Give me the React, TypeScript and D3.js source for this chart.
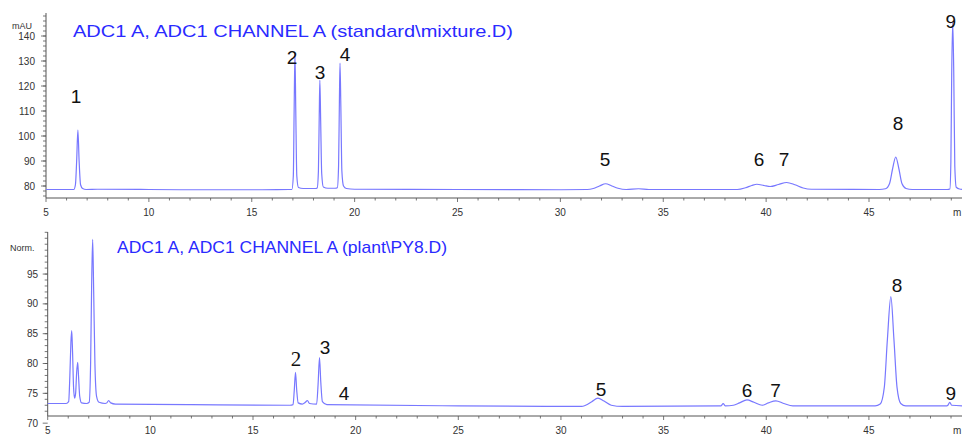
import * as d3 from "d3";

const W = 962;
const H = 436;

// chromatogram traces: [time (min), signal]
const topTrace: [number, number][] = [
  [5.0, 78.6], [6.35, 78.6], [6.43, 80.5], [6.49, 90], [6.55, 102.4], [6.61, 90], [6.68, 80.5], [6.78, 79.0], [6.95, 78.6],
  [7.5, 78.7], [10, 78.6], [12, 78.5], [15.5, 78.5], [16.8, 78.6],
  [16.95, 78.6], [17.02, 84], [17.06, 110], [17.1, 133.2], [17.14, 110], [17.19, 84], [17.27, 79.4], [17.5, 79.0], [17.9, 79.0], [18.1, 79.0],
  [18.18, 79.2], [18.24, 86], [18.28, 108], [18.31, 122.4], [18.35, 106], [18.4, 85], [18.48, 79.6], [18.7, 79.1], [19.05, 79.1],
  [19.16, 79.3], [19.22, 88], [19.26, 114], [19.29, 129.2], [19.33, 112], [19.38, 86], [19.46, 80], [19.6, 79], [20, 78.7],
  [25, 78.6], [30, 78.5], [31.3, 78.6],
  [31.6, 79.0], [31.9, 80.0], [32.2, 80.9], [32.5, 80.0], [32.8, 79.1], [33.2, 78.6], [33.8, 78.9], [34.3, 78.6],
  [38.6, 78.6], [39.0, 79.3], [39.3, 80.2], [39.55, 80.7], [39.9, 80.2], [40.2, 79.8], [40.6, 80.6], [41.0, 81.4], [41.4, 80.5], [41.8, 79.2], [42.2, 78.7],
  [45.5, 78.6], [45.8, 78.9], [46.0, 81], [46.15, 87], [46.3, 91.6], [46.45, 87], [46.6, 81], [46.8, 79], [47.1, 78.6],
  [48.8, 78.6], [48.93, 78.8], [48.98, 90], [49.02, 125], [49.07, 145.5], [49.12, 125], [49.17, 88], [49.24, 79.5], [49.4, 78.8], [49.7, 78.6],
];

const bottomTrace: [number, number][] = [
  [5.0, 73.3], [5.9, 73.3],
  [6.02, 73.6], [6.08, 78], [6.13, 83.5], [6.17, 85.5], [6.21, 82], [6.26, 76], [6.31, 74.2],
  [6.36, 75], [6.41, 78.5], [6.46, 80.2], [6.5, 78], [6.56, 74.5], [6.65, 73.4], [6.9, 73.3],
  [7.02, 73.5], [7.09, 80], [7.14, 93], [7.19, 100.8], [7.24, 92], [7.3, 80], [7.38, 74.5], [7.5, 73.5], [7.8, 73.3],
  [7.88, 73.4], [7.97, 73.8], [8.07, 73.4], [8.3, 73.2],
  [12, 73.1], [16.8, 73.0],
  [16.95, 73.1], [17.01, 75.5], [17.07, 78.5], [17.13, 75.5], [17.2, 73.4], [17.4, 73.2], [17.55, 73.5], [17.65, 73.8], [17.75, 73.3],
  [18.1, 73.2], [18.17, 76.5], [18.24, 81], [18.3, 77], [18.38, 73.6], [18.6, 73.1],
  [25, 72.9], [30, 72.8], [31.0, 72.8],
  [31.2, 73.0], [31.5, 73.6], [31.8, 74.2], [32.1, 73.7], [32.45, 73.0], [33, 72.8],
  [37.8, 72.9], [37.9, 73.3], [38.0, 72.9], [38.4, 73.0],
  [38.7, 73.4], [39.06, 73.9], [39.4, 73.5], [39.8, 73.0], [40.1, 73.4], [40.47, 73.75], [40.85, 73.3], [41.3, 72.9],
  [45.3, 72.9], [45.55, 73.2], [45.75, 76], [45.9, 84], [46.07, 91.2], [46.22, 84], [46.37, 76], [46.55, 73.3], [46.8, 72.9],
  [48.8, 72.9], [48.85, 73.0], [48.94, 73.5], [49.03, 73.0], [49.7, 72.9],
];

// peak labels: [label, time, signal position]
const topLabels: [string, number, number][] = [
  ["1", 6.46, 116], ["2", 16.96, 131.6], ["3", 18.32, 125.6], ["4", 19.53, 132.8],
  ["5", 32.17, 90.8], ["6", 39.65, 90.8], ["7", 40.87, 90.8], ["8", 46.41, 105.2], ["9", 48.98, 146],
];
const bottomLabels: [string, number, number][] = [
  ["2", 17.09, 80.8], ["3", 18.51, 82.75], ["4", 19.43, 75.0], ["5", 31.95, 75.7],
  ["6", 39.06, 75.5], ["7", 40.45, 75.5], ["8", 46.37, 93.07], ["9", 48.99, 75.0],
];

const xTicks = [5, 10, 15, 20, 25, 30, 35, 40, 45];
const topYTicks = [80, 90, 100, 110, 120, 130, 140];
const bottomYTicks = [70, 75, 80, 85, 90, 95];

const topTitle = "ADC1 A, ADC1 CHANNEL A (standard\\mixture.D)";
const bottomTitle = "ADC1 A, ADC1 CHANNEL A (plant\\PY8.D)";

const traceColor = "#7878ff";
const titleColor = "#2a2aff";
const axisColor = "#555";
const font = "'Liberation Sans', Arial, sans-serif";

type PanelProps = {
  trace: [number, number][];
  labels: [string, number, number][];
  yTicks: number[];
  yMinorStep: number;
  yDomain: [number, number];
  yRange: [number, number];
  xRange: [number, number];
  unit: string;
  unitY: number;
  unitX: number;
  title: string;
  titleX: number;
  titleY: number;
  titleWidth: number;
  serifLabel?: string;
  labelRight: number;
};

function Panel(p: PanelProps) {
  const x = d3.scaleLinear().domain([5, 50]).range(p.xRange);
  const y = d3.scaleLinear().domain(p.yDomain).range(p.yRange);
  const line = d3
    .line<[number, number]>()
    .x((d) => x(d[0]))
    .y((d) => y(d[1]))
    .curve(d3.curveMonotoneX);
  const x0 = p.xRange[0];
  const yBottom = p.yRange[0];
  const yTop = p.yRange[1];
  const minorX = d3.range(5, 50, 1);
  const minorY = d3.range(Math.ceil(p.yDomain[0] / p.yMinorStep) * p.yMinorStep, p.yDomain[1], p.yMinorStep);
  return (
    <g>
      <line x1={x0} x2={x0} y1={yTop} y2={yBottom} stroke={axisColor} strokeWidth={1} />
      <line x1={x0} x2={W + 20} y1={yBottom} y2={yBottom} stroke={axisColor} strokeWidth={1} />
      {minorY.map((v) => (
        <line key={"my" + v} x1={x0 - 3} x2={x0} y1={y(v)} y2={y(v)} stroke={axisColor} strokeWidth={0.8} />
      ))}
      {p.yTicks.map((v) => (
        <g key={"y" + v}>
          <line x1={x0 - 5} x2={x0} y1={y(v)} y2={y(v)} stroke={axisColor} strokeWidth={0.8} />
          <text x={p.labelRight} y={y(v)} dy="0.35em" textAnchor="end" fontSize={10} fill="#333" fontFamily={font}>
            {v}
          </text>
        </g>
      ))}
      {minorX.map((t) => (
        <line key={"mx" + t} x1={x(t)} x2={x(t)} y1={yBottom} y2={yBottom + (t % 5 === 0 ? 4 : 2.5)} stroke={axisColor} strokeWidth={0.8} />
      ))}
      {xTicks.map((t) => (
        <text key={"x" + t} x={x(t)} y={yBottom + 18} textAnchor="middle" fontSize={10} fill="#333" fontFamily={font}>
          {t}
        </text>
      ))}
      <text x={W - 9} y={yBottom + 18} fontSize={10} fill="#333" fontFamily={font}>
        m
      </text>
      <text x={p.unitX} y={p.unitY} dy="0.35em" fontSize={9} fill="#333" fontFamily={font}>
        {p.unit}
      </text>
      <text
        x={p.titleX}
        y={p.titleY}
        dy="0.35em"
        fontSize={17}
        fill={titleColor}
        fontFamily={font}
        textLength={p.titleWidth}
        lengthAdjust="spacingAndGlyphs"
      >
        {p.title}
      </text>
      <path d={line(p.trace) ?? ""} fill="none" stroke={traceColor} strokeWidth={1.2} />
      {p.labels.map(([lab, t, v]) => {
        const serif = lab === p.serifLabel;
        return (
          <text
            key={"l" + lab}
            x={x(t)}
            y={y(v)}
            dy="0.36em"
            textAnchor="middle"
            fontSize={serif ? 21 : 19}
            fill="#111"
            fontFamily={serif ? "'Liberation Serif', 'Times New Roman', serif" : font}
          >
            {lab}
          </text>
        );
      })}
    </g>
  );
}

export default function App() {
  return (
    <>
      <style>{`body{margin:0;overflow:hidden;background:#fff}`}</style>
      <svg width={W} height={H} style={{ display: "block", background: "#fff" }}>
        <Panel
          trace={topTrace}
          labels={topLabels}
          yTicks={topYTicks}
          yMinorStep={2}
          yDomain={[75.2, 149.2]}
          yRange={[198, 13]}
          xRange={[46, 46 + 45 * 20.575]}
          unit="mAU"
          unitX={12}
          unitY={26}
          title={topTitle}
          titleX={73}
          titleY={31}
          titleWidth={440}
          labelRight={35}
        />
        <Panel
          trace={bottomTrace}
          labels={bottomLabels}
          yTicks={bottomYTicks}
          yMinorStep={1}
          yDomain={[71.2, 102.05]}
          yRange={[416, 232]}
          xRange={[47.7, 47.7 + 45 * 20.53]}
          unit="Norm."
          unitX={10}
          unitY={248}
          title={bottomTitle}
          titleX={117}
          titleY={247}
          titleWidth={330}
          serifLabel="2"
          labelRight={38}
        />
      </svg>
    </>
  );
}
